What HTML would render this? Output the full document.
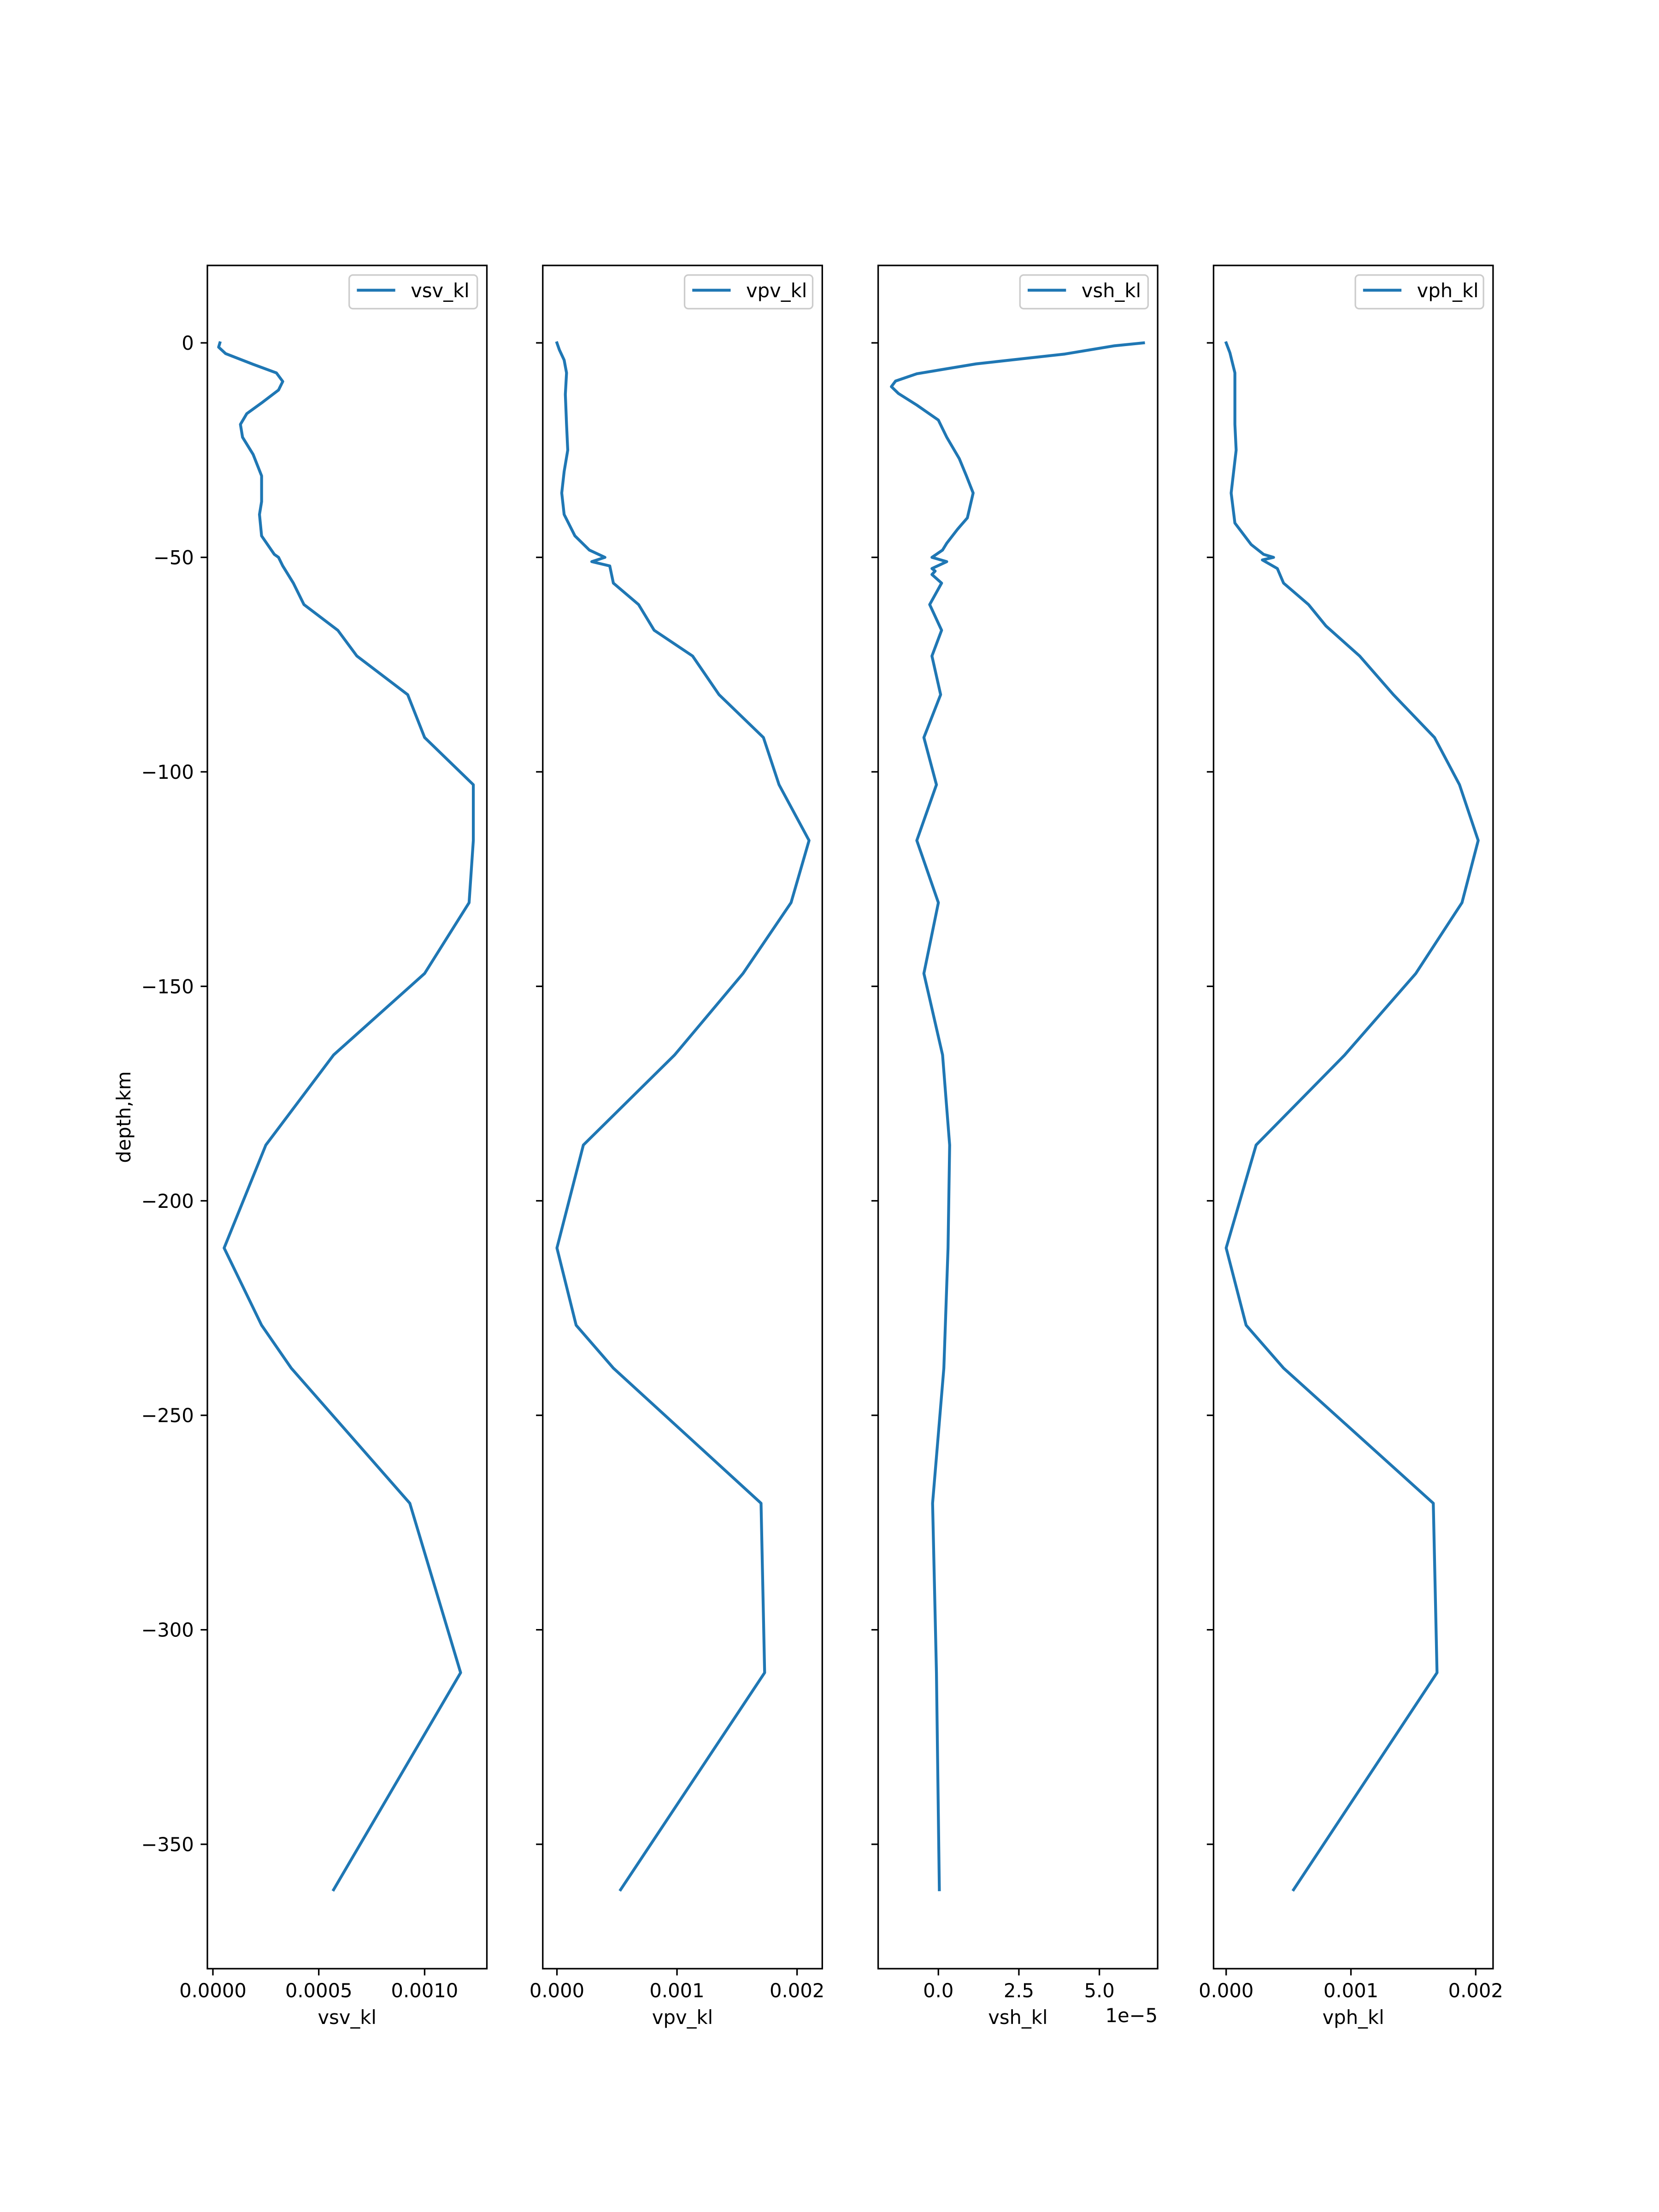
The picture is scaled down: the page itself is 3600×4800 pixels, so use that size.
<!DOCTYPE html>
<html><head><meta charset="utf-8">
<style>
html,body{margin:0;padding:0;background:#fff;}
svg{display:block;}
text{font-family:"DejaVu Sans","Liberation Sans",sans-serif;font-size:41.67px;fill:#000;}
</style></head>
<body>
<svg id="fig" width="3600" height="4800" viewBox="0 0 3600 4800" xmlns="http://www.w3.org/2000/svg">
<rect x="0" y="0" width="3600" height="4800" fill="#fff"/>
</svg>
<script>
// depth arrays (km) and series values
const vsvDepth=[0,-1,-2.5,-5,-7,-9,-11,-14,-16.5,-19,-22,-26,-31,-37,-40,-45,-49.3,-50,-52,-56,-61,-67,-73,-82,-92,-103,-116,-130.5,-147,-166,-187,-211,-229,-239,-270.5,-310,-360.6];
const vsvValues=[0.000033,0.000027,0.00006,0.00019,0.0003,0.00033,0.00031,0.00023,0.00016,0.00013,0.00014,0.00019,0.00023,0.00023,0.00022,0.00023,0.00029,0.00031,0.00033,0.00038,0.00043,0.00059,0.00068,0.00092,0.001,0.00123,0.00123,0.00121,0.001,0.00057,0.00025,0.000053,0.00023,0.00037,0.00093,0.00117,0.00057];
const vpvDepth=[0,-1.6,-4,-7,-12,-19,-25,-30,-35,-40,-45,-48.3,-50,-51,-52,-56,-61,-67,-73,-82,-92,-103,-116,-130.5,-147,-166,-187,-211,-229,-239,-270.5,-310,-360.6];
const vpvValues=[0,0.00002,0.00006,0.00008,0.00007,0.00008,0.00009,0.00006,0.00004,0.00006,0.00015,0.00027,0.0004,0.00029,0.00044,0.00047,0.00068,0.00081,0.00113,0.00135,0.00172,0.00185,0.0021,0.00195,0.00155,0.00098,0.00022,0.0000,0.00016,0.00047,0.0017,0.00173,0.00053];
const vshDepth=[0,-0.7,-2.6,-4.9,-7.2,-8.9,-10.2,-11.8,-14.5,-18,-22,-27,-31,-35,-40.8,-43.4,-46.7,-48.3,-50,-51,-52.6,-53.2,-54,-56,-61,-67,-73,-82,-92,-103,-116,-130.5,-147,-166,-187,-211,-239,-270.5,-310,-360.6];
const vshValues=[6.37e-5,5.45e-5,3.93e-5,1.17e-5,-0.67e-5,-1.33e-5,-1.46e-5,-1.24e-5,-0.67e-5,0,0.26e-5,0.65e-5,0.87e-5,1.08e-5,0.9e-5,0.6e-5,0.26e-5,0.13e-5,-0.2e-5,0.26e-5,-0.2e-5,-0.1e-5,-0.2e-5,0.1e-5,-0.27e-5,0.1e-5,-0.2e-5,0.07e-5,-0.45e-5,-0.06e-5,-0.67e-5,0,-0.45e-5,0.13e-5,0.35e-5,0.3e-5,0.17e-5,-0.18e-5,-0.06e-5,0.03e-5];
const vphDepth=[0,-2.3,-7,-19,-25,-35,-42,-47,-49.3,-50,-50.6,-52.6,-56,-61,-66,-73,-82,-92,-103,-116,-130.5,-147,-166,-187,-211,-229,-239,-270.5,-310,-360.6];
const vphValues=[0,0.00003,0.00007,0.00007,0.00008,0.00004,0.00007,0.0002,0.0003,0.00038,0.00029,0.00041,0.00046,0.00066,0.0008,0.00107,0.00134,0.00167,0.00187,0.00202,0.00189,0.00152,0.00095,0.00024,0,0.00016,0.00046,0.00166,0.00169,0.00054];
const yTicks=[0,-50,-100,-150,-200,-250,-300,-350];
const yTickLabels=["0","\u221250","\u2212100","\u2212150","\u2212200","\u2212250","\u2212300","\u2212350"];
const vsvTicks=[0,0.0005,0.001], vsvTickLabels=["0.0000","0.0005","0.0010"];
const vpvTicks=[0,0.001,0.002], vpvTickLabels=["0.000","0.001","0.002"];
const vshTicks=[0,2.5e-5,5e-5], vshTickLabels=["0.0","2.5","5.0"];
const vphTicks=[0,0.001,0.002], vphTickLabels=["0.000","0.001","0.002"];

const NS="http://www.w3.org/2000/svg";
const svg=document.getElementById('fig');
const TOP=576,BOT=4272,YMAX=18.05,YMIN=-379;
function yScale(v){return TOP+(YMAX-v)/(YMAX-YMIN)*(BOT-TOP);}
function mk(tag,attrs,parent){const e=document.createElementNS(NS,tag);for(const k in attrs)e.setAttribute(k,attrs[k]);(parent||svg).appendChild(e);return e;}

const panels=[
 {name:'vsv',label:'vsv_kl',left:450,right:1056.5,xmin:-0.0000261,xmax:0.001294,d:vsvDepth,v:vsvValues,t:vsvTicks,tl:vsvTickLabels},
 {name:'vpv',label:'vpv_kl',left:1177.8,right:1784.3,xmin:-0.000118,xmax:0.002210,d:vpvDepth,v:vpvValues,t:vpvTicks,tl:vpvTickLabels},
 {name:'vsh',label:'vsh_kl',left:1905.6,right:2512.1,xmin:-1.87e-5,xmax:6.81e-5,d:vshDepth,v:vshValues,t:vshTicks,tl:vshTickLabels},
 {name:'vph',label:'vph_kl',left:2633.4,right:3239.9,xmin:-0.000101,xmax:0.002139,d:vphDepth,v:vphValues,t:vphTicks,tl:vphTickLabels}
];
panels.forEach((p,pi)=>{
  const g=mk('g',{});
  
  
  const xs=v=>p.left+(v-p.xmin)/(p.xmax-p.xmin)*(p.right-p.left);
  let dstr='';
  p.v.forEach((v,i)=>{dstr+=(i?'L':'M')+xs(v).toFixed(2)+' '+yScale(p.d[i]).toFixed(2);});
  const line=mk('path',{d:dstr,fill:'none',stroke:'#1f77b4','stroke-width':6.25,'stroke-linejoin':'round','stroke-linecap':'square'},g);
  
  
  const fr=mk('rect',{x:p.left,y:TOP,width:p.right-p.left,height:BOT-TOP,fill:'none',stroke:'#000','stroke-width':3.3},g);
  
  
  yTicks.forEach((t,i)=>{
    const y=yScale(t);
    const tk=mk('line',{x1:p.left-14.6,x2:p.left,y1:y,y2:y,stroke:'#000','stroke-width':3.3},g);
    
    
    if(pi===0){
      const tx=mk('text',{x:p.left-29.2,y:y+15,'text-anchor':'end'},g);
      tx.textContent=yTickLabels[i];
      
      
    }
  });
  p.t.forEach((t,i)=>{
    const x=xs(t);
    const tk=mk('line',{x1:x,x2:x,y1:BOT,y2:BOT+14.6,stroke:'#000','stroke-width':3.3},g);
    
    
    const tx=mk('text',{x:x,y:4334,'text-anchor':'middle'},g);
    tx.textContent=p.tl[i];
    
    
  });
  const xl=mk('text',{x:(p.left+p.right)/2,y:4392,'text-anchor':'middle'},g);
  xl.textContent=p.label;
  
  
  const lw=278,lh=73,lx=p.right-20.8-lw,ly=TOP+20.8;
  const lg=mk('g',{},g);
  
  
  mk('rect',{x:lx,y:ly,width:lw,height:lh,rx:8,ry:8,fill:'#fff','fill-opacity':0.8,stroke:'#ccc','stroke-width':3.3},lg);
  mk('line',{x1:lx+16.7,x2:lx+100,y1:ly+33,y2:ly+33,stroke:'#1f77b4','stroke-width':6.25},lg);
  const lt=mk('text',{x:lx+133.5,y:ly+48},lg);
  lt.textContent=p.label;
  
  
  if(p.name==='vsh'){
    const off=mk('text',{x:p.right,y:4388,'text-anchor':'end'},g);
    off.textContent='1e\u22125';
    
    
  }
});
const yl=mk('text',{x:0,y:0,'text-anchor':'middle',transform:'translate(283,2424) rotate(-90)'});
yl.textContent='depth,km';


</script>
</body></html>
